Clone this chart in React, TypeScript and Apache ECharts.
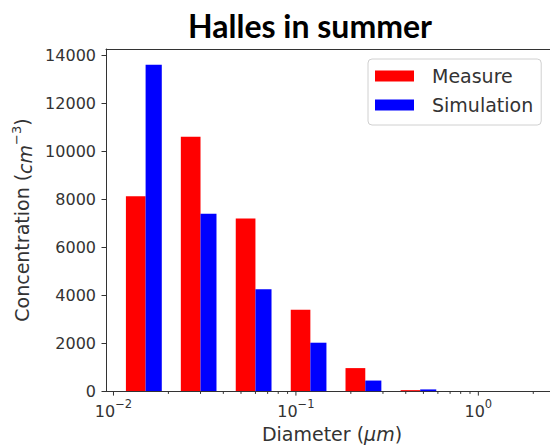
import React, { useEffect, useRef } from "react";
import * as echarts from "echarts";

// Bin edges (diameter, µm)
const lowEdges = [0.0117, 0.0234, 0.0468, 0.0937, 0.187, 0.375];
const midEdges = [0.015, 0.03, 0.06, 0.12, 0.24, 0.48];
const highEdges = [0.0184, 0.0367, 0.0735, 0.147, 0.294, 0.588];
// Concentrations (cm^-3)
const measure = [8130, 10620, 7200, 3400, 960, 40];
const simulation = [13620, 7400, 4250, 2020, 440, 70];
// Axis ticks
const yTicks = [0, 2000, 4000, 6000, 8000, 10000, 12000, 14000];
const xMajorTicks = [0.01, 0.1, 1];
const xMinorTicks = [0.02, 0.03, 0.04, 0.05, 0.06, 0.07, 0.08, 0.09, 0.2, 0.3, 0.4, 0.5, 0.6, 0.7, 0.8, 0.9, 2];
const xTickExponents: Record<string, string> = { "0.01": "−2", "0.1": "−1", "1": "0" };

const FONT = "DejaVu Sans";
const TXT = "#333";

export default function App() {
  const ref = useRef<HTMLDivElement>(null);
  useEffect(() => {
    const chart = echarts.init(ref.current!, null, { renderer: "svg" });
    const barRender = (params: any, api: any) => {
      const p0 = api.coord([api.value(0), 0]);
      const p1 = api.coord([api.value(1), api.value(2)]);
      return {
        type: "rect",
        shape: { x: p0[0], y: p1[1], width: p1[0] - p0[0], height: p0[1] - p1[1] },
        style: api.style(),
      };
    };
    const tickRender = (params: any, api: any) => {
      const p = api.coord([api.value(0), 0]);
      const len = api.value(2) ? 4.5 : 2.8;
      return {
        type: "line",
        shape: { x1: p[0], y1: p[1], x2: p[0], y2: p[1] + len },
        style: { stroke: TXT, lineWidth: 1 },
      };
    };
    const supRich = {
      b: { fontFamily: FONT, fontSize: 16, color: TXT, lineHeight: 21, verticalAlign: "bottom" },
      s: { fontFamily: FONT, fontSize: 11.5, color: TXT, lineHeight: 12, verticalAlign: "top" },
    };
    chart.setOption({
      animation: false,
      graphic: [
        {
          type: "text",
          x: 310,
          y: 25,
          style: {
            text: "Halles in summer",
            font: "bold 32px Lato",
            fill: "#000",
            textAlign: "center",
            textVerticalAlign: "middle",
          },
        },
      ],
      grid: { left: 106, top: 49, right: 0, bottom: 56, show: false },
      legend: {
        data: ["Measure", "Simulation"],
        orient: "vertical",
        left: 368,
        top: 59,
        icon: "rect",
        itemWidth: 39,
        itemHeight: 11,
        itemGap: 7,
        padding: [6, 8, 9, 7],
        backgroundColor: "#fff",
        borderColor: "#d0d0d0",
        borderWidth: 1,
        borderRadius: 4,
        textStyle: { fontFamily: FONT, fontSize: 19, color: TXT, lineHeight: 22, padding: [0, 0, 0, 13] },
      },
      xAxis: [
        {
          type: "log",
          logBase: 10,
          min: 0.0091,
          max: 2.47,
          name: "Diameter ({i|μm})",
          nameLocation: "middle",
          nameGap: 32,
          nameTextStyle: {
            fontFamily: FONT,
            fontSize: 19,
            color: TXT,
            padding: [0, 0, 0, 8],
            rich: { i: { fontFamily: FONT, fontSize: 19, fontStyle: "italic", color: TXT } },
          },
          axisLine: { onZero: false, lineStyle: { color: TXT, width: 1 } },
          axisTick: { show: false },
          splitLine: { show: false },
          minorTick: { show: false },
          axisLabel: {
            margin: 7,
            showMinLabel: false,
            showMaxLabel: false,
            rich: supRich,
            formatter: (v: number) => {
              const e = Math.round(Math.log10(v));
              if (Math.abs(Math.log10(v) - e) > 1e-6) return "";
              const s = xTickExponents[String(Math.pow(10, e))];
              return s === undefined ? "" : `{b|10}{s|${s}}`;
            },
          },
        },
        {
          type: "log",
          logBase: 10,
          position: "top",
          min: 0.0091,
          max: 2.47,
          axisLine: { show: true, onZero: false, lineStyle: { color: TXT, width: 1 } },
          axisTick: { show: false },
          axisLabel: { show: false },
          splitLine: { show: false },
        },
      ],
      yAxis: {
        type: "value",
        min: 0,
        max: 14280,
        name: "Concentration ({i|cm}{s|−3})",
        nameLocation: "middle",
        nameGap: 69,
        nameTextStyle: {
          fontFamily: FONT,
          fontSize: 19,
          color: TXT,
          rich: {
            i: { fontFamily: FONT, fontSize: 19, fontStyle: "italic", color: TXT, lineHeight: 24, verticalAlign: "bottom" },
            s: { fontFamily: FONT, fontSize: 13, color: TXT, lineHeight: 14, verticalAlign: "top" },
          },
        },
        axisLine: { show: true, onZero: false, lineStyle: { color: TXT, width: 1 } },
        axisTick: { show: true, length: 4.5, lineStyle: { color: TXT }, customValues: yTicks },
        axisLabel: {
          margin: 10,
          fontFamily: FONT,
          fontSize: 16,
          color: TXT,
          customValues: yTicks,
          formatter: (v: number) => String(v),
        },
        splitLine: { show: false },
      },
      series: [
        {
          name: "Measure",
          type: "custom",
          renderItem: barRender,
          itemStyle: { color: "#ff0000" },
          encode: { x: [0, 1], y: 2 },
          data: measure.map((v, i) => [lowEdges[i], midEdges[i], v]),
        },
        {
          name: "Simulation",
          type: "custom",
          renderItem: barRender,
          itemStyle: { color: "#0000ff" },
          encode: { x: [0, 1], y: 2 },
          data: simulation.map((v, i) => [midEdges[i], highEdges[i], v]),
        },
        {
          name: "ticks",
          type: "custom",
          renderItem: tickRender,
          clip: false,
          silent: true,
          encode: { x: 0, y: 1 },
          data: [
            ...xMajorTicks.map((v) => [v, 0, 1]),
            ...xMinorTicks.map((v) => [v, 0, 0]),
          ],
        },
      ],
    });
    return () => chart.dispose();
  }, []);
  return <div ref={ref} style={{ position: "absolute", left: 0, top: 0, width: 550, height: 448 }} />;
}
